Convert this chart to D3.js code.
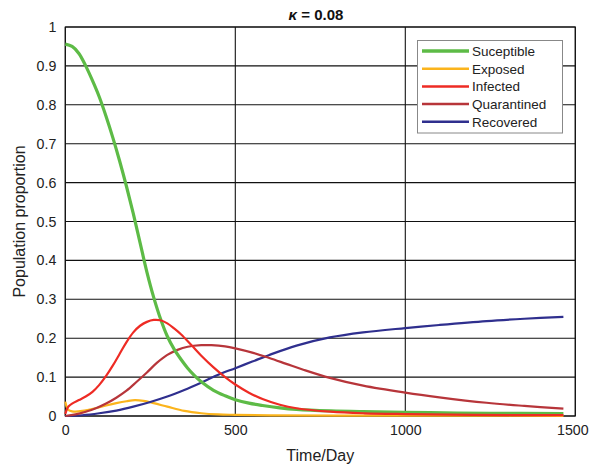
<!DOCTYPE html>
<html><head><meta charset="utf-8">
<script src="https://cdn.jsdelivr.net/npm/d3@7"></script>
<style>body{margin:0;background:#fff;}svg{display:block;font-family:"Liberation Sans",Arial,sans-serif;}</style>
</head><body><svg id="c" width="589" height="468"></svg>
<script>
const seriesNames = ["Suceptible","Exposed","Infected","Quarantined","Recovered"];
const seriesColors = ["#5dbb46","#fbb41c","#ee2b24","#b7353a","#2f2f8e"];
const susceptible = [[0,0.956],[20,0.95],[40,0.932],[60,0.90],[80,0.862],[100,0.82],[120,0.77],[140,0.715],[160,0.655],[180,0.59],[200,0.52],[220,0.445],[240,0.37],[260,0.305],[280,0.25],[300,0.205],[320,0.172],[340,0.146],[360,0.123],[380,0.104],[400,0.088],[436,0.066],[470,0.052],[500,0.042],[540,0.033],[580,0.027],[631,0.021],[680,0.017],[780,0.013],[876,0.011],[1073,0.0085],[1250,0.007],[1465,0.006]];
const exposed = [[0,0.037],[3,0.026],[6,0.019],[10,0.015],[20,0.012],[30,0.011],[50,0.013],[88,0.02],[120,0.027],[150,0.033],[180,0.038],[205,0.041],[230,0.039],[260,0.033],[300,0.024],[350,0.013],[400,0.007],[450,0.004],[500,0.003],[600,0.0015],[800,0.001],[1465,0.0005]];
const infected = [[0,0.005],[5,0.018],[10,0.025],[20,0.032],[40,0.041],[60,0.05],[80,0.062],[100,0.08],[120,0.103],[140,0.13],[160,0.16],[180,0.19],[200,0.215],[220,0.232],[240,0.242],[260,0.247],[280,0.246],[300,0.238],[320,0.225],[340,0.21],[370,0.183],[400,0.155],[436,0.125],[470,0.1],[500,0.081],[540,0.06],[582,0.043],[631,0.029],[680,0.02],[780,0.011],[880,0.007],[1000,0.005],[1200,0.003],[1465,0.002]];
const quarantined = [[0,0],[30,0.004],[60,0.011],[90,0.02],[120,0.032],[150,0.047],[180,0.065],[210,0.088],[240,0.112],[270,0.137],[300,0.157],[330,0.17],[360,0.178],[400,0.182],[430,0.182],[470,0.179],[500,0.174],[550,0.163],[600,0.149],[650,0.134],[700,0.119],[778,0.098],[876,0.078],[1000,0.06],[1100,0.048],[1239,0.034],[1350,0.026],[1465,0.019]];
const recovered = [[0,0],[50,0.002],[100,0.007],[150,0.014],[200,0.024],[250,0.036],[300,0.05],[350,0.067],[400,0.086],[450,0.106],[500,0.123],[550,0.14],[600,0.157],[680,0.181],[778,0.202],[876,0.215],[1000,0.226],[1100,0.234],[1239,0.244],[1350,0.25],[1465,0.255]];
const allSeries = [susceptible, exposed, infected, quarantined, recovered];
const xTicks = [0,500,1000,1500];
const yTicks = [0,0.1,0.2,0.3,0.4,0.5,0.6,0.7,0.8,0.9,1];

const svg = d3.select("#c");
const L=65.3, R=575.3, T=27, B=416;
const x = d3.scaleLinear().domain([0,1500]).range([L,R]);
const y = d3.scaleLinear().domain([0,1]).range([B,T]);

// grid
const g = svg.append("g");
g.selectAll(".hg").data(yTicks).join("line")
  .attr("x1",L).attr("x2",R).attr("y1",d=>y(d)).attr("y2",d=>y(d))
  .attr("stroke","#111").attr("stroke-width",1.1);
g.selectAll(".vg").data(xTicks).join("line")
  .attr("y1",T).attr("y2",B).attr("x1",d=>x(d)).attr("x2",d=>x(d))
  .attr("stroke","#111").attr("stroke-width",1.1);
g.append("rect").attr("x",L).attr("y",T).attr("width",R-L).attr("height",B-T)
  .attr("fill","none").attr("stroke","#111").attr("stroke-width",1.1);

// tick labels via axes
const xAxis = svg.append("g").attr("transform",`translate(0,${B})`)
  .call(d3.axisBottom(x).tickValues(xTicks).tickSize(0).tickPadding(9).tickFormat(d3.format("d")));
xAxis.select(".domain").remove();
xAxis.selectAll("text").attr("font-size",14.2).attr("fill","#222").attr("font-family","Liberation Sans, Arial, sans-serif")
  .attr("dx",d=>d===1500?-3:0);
const yAxis = svg.append("g").attr("transform",`translate(${L},0)`)
  .call(d3.axisLeft(y).tickValues(yTicks).tickSize(0).tickPadding(9).tickFormat(d=>d===0?"0":d===1?"1":d3.format(".1f")(d)));
yAxis.select(".domain").remove();
yAxis.selectAll("text").attr("font-size",14.2).attr("fill","#222").attr("font-family","Liberation Sans, Arial, sans-serif");

// lines
const line = d3.line().x(d=>x(d[0])).y(d=>y(d[1])).curve(d3.curveCatmullRom.alpha(0.5));
const order = [1,4,3,0,2];
order.forEach(i=>{
  svg.append("path").datum(allSeries[i]).attr("d",line).attr("fill","none")
    .attr("stroke",seriesColors[i]).attr("stroke-width",i===0?3.2:2.2)
    .attr("stroke-linejoin","round");
});

// title
const title = svg.append("text").attr("x",316).attr("y",20).attr("text-anchor","middle")
  .attr("font-size",15).attr("font-weight","bold").attr("fill","#111");
title.append("tspan").attr("font-style","italic").text("κ");
title.append("tspan").text(" = 0.08");

// axis labels
svg.append("text").attr("x",(L+R)/2).attr("y",461).attr("text-anchor","middle")
  .attr("font-size",16).attr("fill","#222").text("Time/Day");
svg.append("text").attr("transform",`translate(25,${(T+B)/2}) rotate(-90)`).attr("text-anchor","middle")
  .attr("font-size",16).attr("fill","#222").text("Population proportion");

// legend
const lg = svg.append("g");
lg.append("rect").attr("x",417.5).attr("y",40.5).attr("width",145).attr("height",92.5)
  .attr("fill","#fff").attr("stroke","#888").attr("stroke-width",1);
seriesNames.forEach((n,i)=>{
  const yy = 51 + i*17.7;
  lg.append("line").attr("x1",422).attr("x2",469).attr("y1",yy).attr("y2",yy)
    .attr("stroke",seriesColors[i]).attr("stroke-width",i===0?3.5:2.5);
  lg.append("text").attr("x",472).attr("y",yy+5).attr("font-size",13.5).attr("fill","#222").text(n);
});
</script></body></html>
